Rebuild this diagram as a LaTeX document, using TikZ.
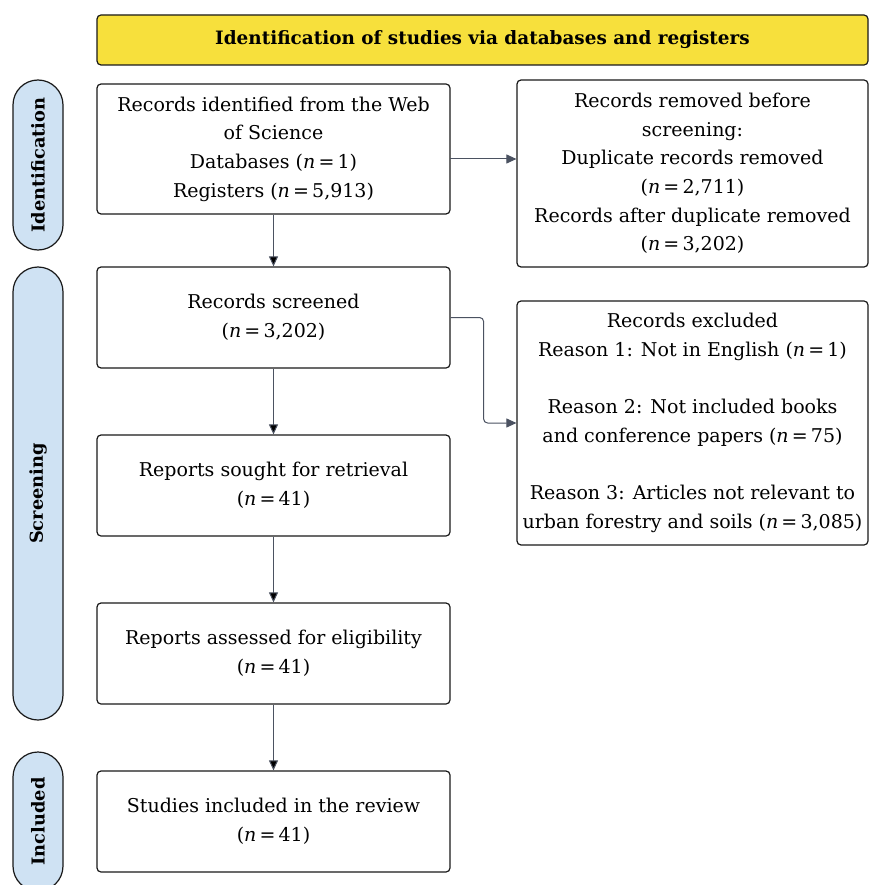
\documentclass[tikz,border=0pt]{standalone}
\usepackage{fontspec}
\setmainfont{DejaVu Serif}
\usetikzlibrary{arrows.meta}

\definecolor{headyellow}{HTML}{F7E03C}
\definecolor{phaseblue}{HTML}{CFE2F3}
\definecolor{arrowgray}{HTML}{4B5261}

\tikzset{
	box/.style={draw=black!90, line width=1.2pt, rounded corners=4pt, fill=white,
		minimum width=353pt, minimum height=101pt, align=center,
		font=\fontsize{19}{28.7}\selectfont},
	sidebox/.style={box, minimum width=351pt},
	phase/.style={draw=black!90, line width=1.2pt, fill=phaseblue, rotate=90,
		minimum height=50pt, rounded corners=25pt, font=\bfseries\fontsize{17.8}{20}\selectfont},
	flow/.style={draw=arrowgray, line width=1pt, -{Triangle[length=10pt,width=9pt]}}
}
\newcommand{\nn}[1]{(\textit{n}\,=\,#1)}

\begin{document}
\begin{tikzpicture}[x=1pt, y=-1pt]
		\clip (0,0) rectangle (869,885);
		\fill[white] (0,0) rectangle (869,885);
		% header
		\node[draw=black!90, line width=1.2pt, rounded corners=4pt, fill=headyellow,
			minimum width=771pt, minimum height=50pt, font=\bfseries\fontsize{18.4}{20}\selectfont]
			(head) at (482.5,40) {Identification of studies via databases and registers};
		% phases
		\node[phase, minimum width=170pt] (pident) at (38,165) {Identification};
		\node[phase, minimum width=453pt] (pscreen) at (38,493.5) {Screening};
		\node[phase, minimum width=139pt] (pincl) at (38,821.5) {Included};
		% main column
		\node[box, minimum height=130pt] (ident) at (273.5,149)
			{Records identified from the Web\\of Science\\Databases \nn{1}\\Registers \nn{5,913}};
		\node[box] (screen) at (273.5,317.5) {Records screened\\\nn{3,202}};
		\node[box] (sought) at (273.5,485.5) {Reports sought for retrieval\\\nn{41}};
		\node[box] (assess) at (273.5,653.5) {Reports assessed for eligibility\\\nn{41}};
		\node[box] (incl) at (273.5,821.5) {Studies included in the review\\\nn{41}};
		% side column
		\node[sidebox, minimum height=187pt] (removed) at (692.5,173.5)
			{Records removed before\\screening:\\Duplicate records removed\\\nn{2,711}\\Records after duplicate removed\\\nn{3,202}};
		\node[sidebox, minimum height=244pt] (excl) at (692.5,423)
			{Records excluded\\Reason 1: Not in English \nn{1}\\[28.7pt]Reason 2: Not included books\\and conference papers \nn{75}\\[28.7pt]Reason 3: Articles not relevant to\\urban forestry and soils \nn{3,085}};
		% arrows
		\coordinate (dupe) at (450,159);
		\path[flow]
		(ident) edge (screen)
		(screen) edge (sought)
		(sought) edge (assess)
		(assess) edge (incl);
		\draw[flow] (dupe) -- (dupe -| removed.west);
		\draw[flow, rounded corners=4pt] (screen.east) -- ++(33,0) |- (excl.west);
	\end{tikzpicture}
\end{document}
